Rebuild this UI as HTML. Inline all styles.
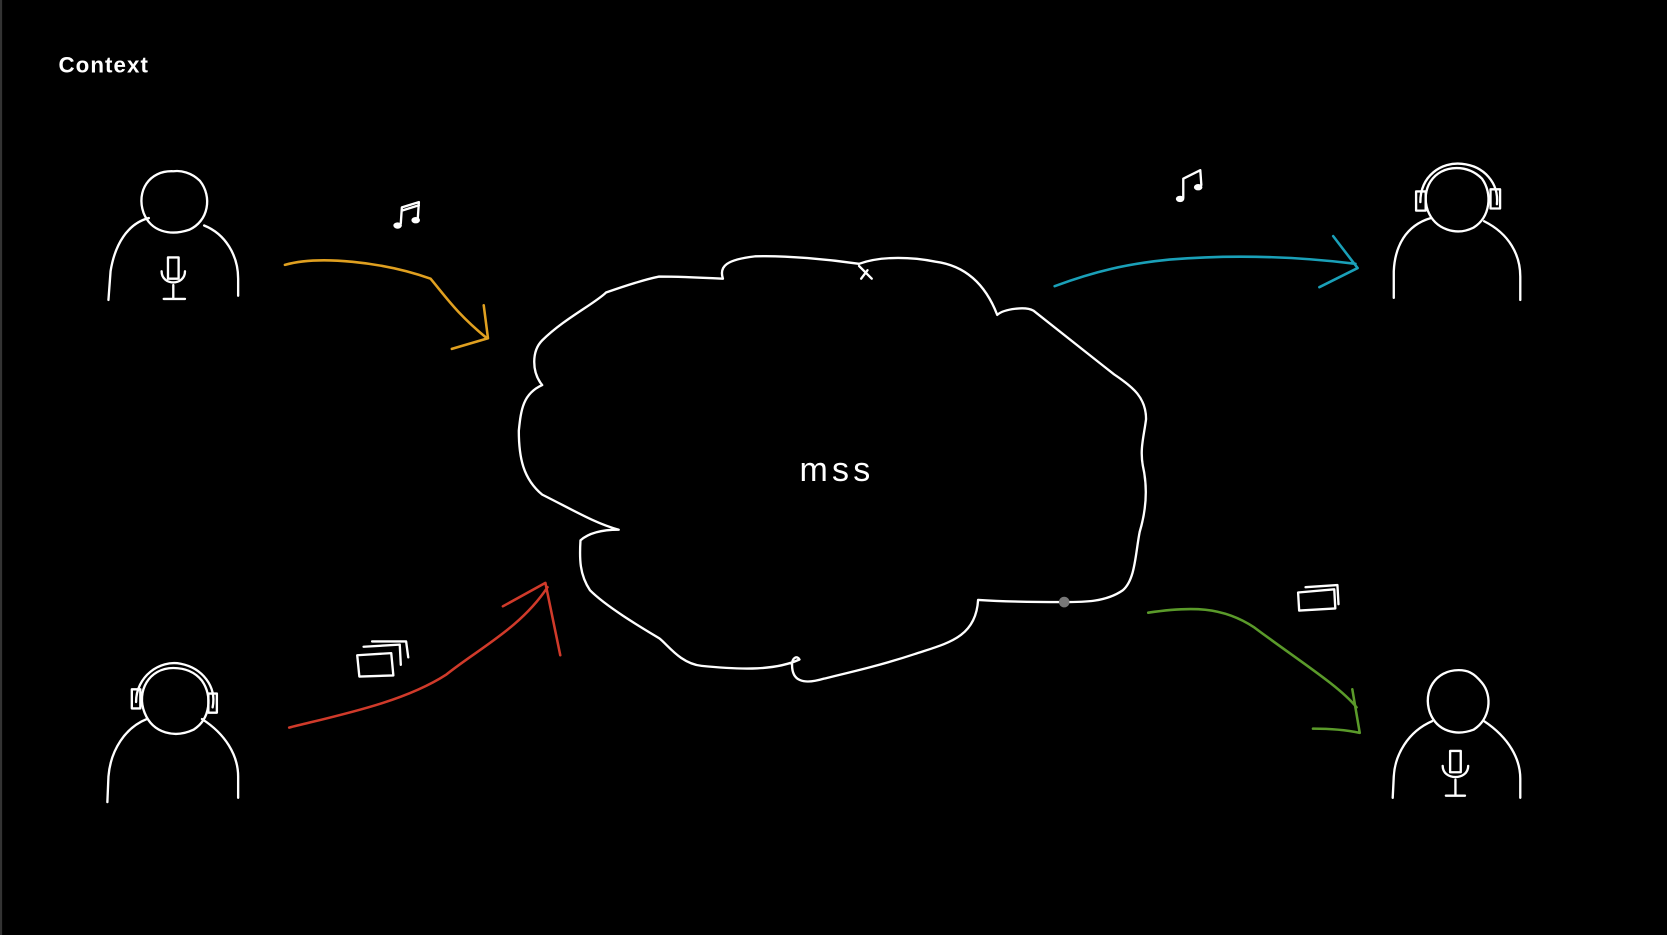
<!DOCTYPE html>
<html><head><meta charset="utf-8"><style>
html,body{margin:0;padding:0;background:#000;width:1667px;height:935px;overflow:hidden}
svg{display:block}
text{font-family:"Liberation Sans",sans-serif;fill:#fff}
</style></head><body>
<svg width="1667" height="935" viewBox="0 0 1568 879" preserveAspectRatio="none" xmlns="http://www.w3.org/2000/svg">
<rect width="1568" height="879" fill="#000"/>
<line x1="1" y1="0" x2="1" y2="879" stroke="#333" stroke-width="2"/>
<text x="55" y="68" font-size="21" letter-spacing="1" font-weight="bold">Context</text>
<g fill="none" stroke="#fff" stroke-width="2.2" stroke-linecap="round" stroke-linejoin="round">
<path d="M163 161 C140 160 128 180 135 200 C142 218 160 222 178 216 C196 208 200 185 188 170 C180 162 170 160 163 161Z"/>
<path d="M140 205 C120 210 108 230 104 255 L102 282"/>
<path d="M192 212 C212 220 224 240 224 262 L224 278"/>
<path d="M158 242 h10 v20 h-10z M152 255 c0 14 22 14 22 0 M163 268 v12 M154 281 h20"/>
<path d="M163 628 C140 628 128 650 136 670 C144 690 165 694 182 686 C198 676 200 654 190 640 C182 630 172 628 163 628Z"/>
<path d="M128 660 C128 636 150 620 170 624 C190 628 204 645 200 665"/>
<rect x="124" y="648" width="8" height="18"/><rect x="196" y="652" width="8" height="18"/>
<path d="M138 676 C118 684 104 705 102 730 L101 754"/>
<path d="M190 676 C212 690 224 710 224 730 L224 750"/>
<path d="M1370 158 C1348 158 1336 178 1343 198 C1350 216 1370 222 1386 214 C1402 204 1404 182 1394 168 C1386 160 1378 158 1370 158Z"/>
<path d="M1336 190 C1336 165 1356 152 1375 154 C1396 156 1410 172 1408 192"/>
<rect x="1332" y="180" width="9" height="18"/><rect x="1402" y="178" width="9" height="18"/>
<path d="M1346 205 C1322 212 1312 232 1311 255 L1311 280"/>
<path d="M1396 208 C1420 220 1430 240 1430 260 L1430 282"/>
<path d="M1372 630 C1350 630 1338 650 1345 670 C1352 688 1370 692 1386 686 C1402 676 1404 654 1394 642 C1386 632 1380 630 1372 630Z"/>
<path d="M1347 678 C1324 688 1312 710 1311 730 L1310 750"/>
<path d="M1396 678 C1420 694 1430 714 1430 732 L1430 750"/>
<path d="M1364 706 h10 v20 h-10z M1357 720 c0 14 24 14 24 0 M1369 733 v14 M1360 748 h18"/>
<path d="M680 262 C676 250 684 244 710 241 C740 240 780 244 808 248 C830 240 860 242 880 246 C910 250 928 270 938 296 C945 290 965 288 972 292 C990 306 1020 330 1048 352 C1066 364 1078 374 1078 394 C1076 410 1072 422 1075 438 C1080 460 1078 480 1072 500 C1068 520 1068 545 1056 555 C1040 566 1020 566 1000 566 C975 566 950 566 920 564 C918 600 890 605 860 615 C830 625 800 632 775 638 C755 644 745 640 745 625 C745 618 750 616 752 620 C730 630 700 630 660 626 C640 624 628 606 620 600 C600 588 570 570 555 555 C545 540 545 525 546 508 C555 500 570 498 582 498 C560 492 540 480 510 465 C492 450 488 430 488 405 C490 385 492 370 510 362 C500 350 500 330 510 320 C530 300 560 285 570 275 C590 268 610 262 620 260 C640 260 660 261 680 262Z"/>
<path d="M808 250 L820 262 M816 254 L810 262"/>
<path d="M377 210 L378 195 L394 190 L393 205 M378 198 L394 193"/>
<path d="M1113 186 L1113 168 L1129 160 L1130 174"/>
<path d="M336 616 L368 614 L370 635 L338 636Z M342 608 L376 606 L377 625 M350 603 L382 603 L384 618"/>
<path d="M1221 557 L1255 554 L1256 572 L1222 574Z M1228 552 L1258 550 L1259 568"/>
</g>
<g fill="#fff">
<ellipse cx="374" cy="212" rx="4" ry="3"/><ellipse cx="391" cy="207" rx="4" ry="3"/>
<ellipse cx="1110" cy="187" rx="4" ry="3"/><ellipse cx="1127" cy="176" rx="4" ry="3"/>
</g>
<circle cx="1001" cy="566" r="5" fill="#777"/>
<text x="752" y="452" font-size="32" letter-spacing="4">mss</text>
<g fill="none" stroke-width="2.4" stroke-linecap="round" stroke-linejoin="round">
<path stroke="#e0a020" d="M268 249 C300 240 360 246 405 262 C420 280 430 295 458 318 M455 287 L459 318 L425 328"/>
<path stroke="#d03a2a" d="M272 684 C320 672 380 660 420 634 C450 610 490 590 515 552 M473 570 L513 548 L527 616"/>
<path stroke="#1aa0b8" d="M992 269 C1030 255 1060 248 1100 244 C1150 240 1210 240 1275 248 M1254 222 L1277 252 L1241 270"/>
<path stroke="#5a9a2a" d="M1080 576 C1120 570 1150 570 1180 590 C1220 620 1260 645 1276 665 M1272 648 L1279 689 C1265 686 1250 685 1235 685"/>
</g>
</svg>
</body></html>
